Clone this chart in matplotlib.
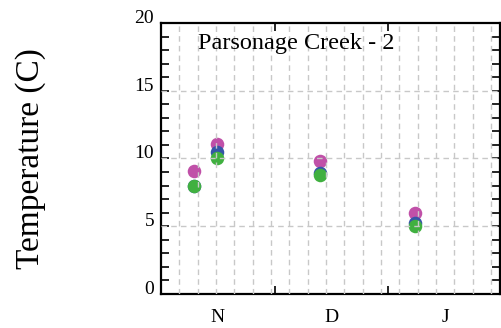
import numpy as np
import matplotlib.pyplot as plt

# days counted from Oct 31 (Nov 1 = 1)
days = [9.1, 15.2, 43.3, 69.3]
temp_pink = [9.1, 11.1, 9.8, 5.95]
temp_blue = [8.0, 10.45, 8.95, 5.25]
temp_green = [8.0, 10.0, 8.8, 5.05]

month_edges = [31, 62]
month_mid = [15.5, 46.5, 77.5]
month_labels = ["N", "D", "J"]

plt.rcParams['font.family'] = ['Liberation Serif', 'DejaVu Serif']

fig = plt.figure(figsize=(5.02, 3.28), dpi=100)
ax = fig.add_axes([0.3207, 0.1037, 0.996 - 0.3207, 0.93 - 0.1037])

# grid
for g in range(5, 91, 5):
    ax.axvline(g, color='#c8c8c8', lw=1.0, ls=(0, (4, 3)), zorder=3)
for g in [5, 10, 15]:
    ax.axhline(g, color='#c8c8c8', lw=1.0, ls=(0, (4, 3)), zorder=3)

ax.scatter(days, temp_pink, s=95, color='#c050a8', zorder=2, linewidths=0)
ax.scatter(days, temp_blue, s=95, color='#3555a8', zorder=2, linewidths=0)
ax.scatter(days, temp_green, s=95, color='#40b040', zorder=2, linewidths=0)

ax.set_xlim(0, 92.5)
ax.set_ylim(0, 20)

ax.set_xticks(month_edges)
ax.set_xticklabels([])
ax.set_xticks(month_mid, minor=True)
ax.set_xticklabels(month_labels, minor=True, fontsize=14)
ax.tick_params(axis='x', which='major', direction='in', length=6, width=1.2,
               top=True, bottom=True)
ax.tick_params(axis='x', which='minor', length=0, pad=11)

ax.set_yticks([0, 5, 10, 15, 20])
ax.set_yticks(np.arange(0, 21, 1), minor=True)
ax.tick_params(axis='y', which='both', direction='in', length=6, width=1.2,
               left=True, right=True, labelsize=14, pad=5)
for t in ax.get_yticklabels():
    t.set_verticalalignment('baseline')

for sp in ax.spines.values():
    sp.set_linewidth(1.6)

ax.set_ylabel("Temperature (C)", fontsize=24, labelpad=64)
ax.text(0.11, 0.905, "Parsonage Creek - 2", transform=ax.transAxes,
        fontsize=17.5, va='baseline', ha='left')

fig.savefig("out.png", dpi=100)
